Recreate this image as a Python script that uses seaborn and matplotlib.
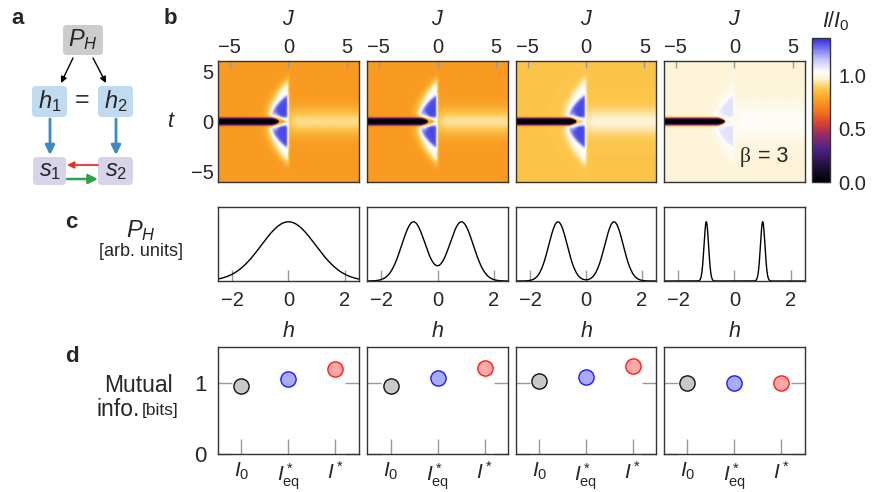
import numpy as np
import matplotlib
matplotlib.use("Agg")
import matplotlib.pyplot as plt
import seaborn as sns
import pandas as pd
from matplotlib.colors import LinearSegmentedColormap, Normalize
from matplotlib.patches import FancyBboxPatch, FancyArrowPatch

sns.set_theme(style="white")
plt.rcParams['font.family'] = ['Liberation Sans', 'DejaVu Sans']
plt.rcParams['mathtext.fontset'] = 'custom'
plt.rcParams['mathtext.it'] = 'Liberation Sans:italic'
plt.rcParams['mathtext.rm'] = 'Liberation Sans'
plt.rcParams['mathtext.bf'] = 'Liberation Sans:bold'

# ---------------- data ----------------
J_ticks = [-5, 0, 5]
t_ticks = [-5, 0, 5]
h_ticks = [-2, 0, 2]
cbar_ticks = [0.0, 0.5, 1.0]

# panel b: levels of I/I0
bg_level = [0.76, 0.76, 0.87, 0.975]
band_peak = [0.92, 0.93, 0.97, 1.02]
band_width = [0.9, 0.9, 0.9, 1.3]
halo_level = [1.04, 1.04, 1.04, 1.01]
lobe_amp = [0.27, 0.27, 0.27, 0.08]

# panel c: P_H peak positions and widths
peak_pos = [0.0, 0.85, 1.0, 1.0]
peak_width = [0.96, 0.42, 0.33, 0.08]

# panel d: mutual information (bits)
mi_labels = ['$I_0$', '$I^*_{\\rm eq}$', '$I^*$']
mi_I0 = [0.955, 0.96, 1.02, 1.0]
mi_Ieq = [1.052, 1.06, 1.085, 1.0]
mi_Istar = [1.19, 1.205, 1.233, 1.0]

# ---------------- figure ----------------
W, H = 878, 492
fig = plt.figure(figsize=(W / 100, H / 100), dpi=100)
fig.patch.set_facecolor('white')


def px_axes(x0, y0, x1, y1):
    return fig.add_axes([x0 / W, 1 - y1 / H, (x1 - x0) / W, (y1 - y0) / H])


def ftext(x, y, s, **kw):
    fig.text(x / W, 1 - y / H, s, **kw)


cmap = LinearSegmentedColormap.from_list('ii0', [
    (0.00 / 1.35, '#000000'),
    (0.12 / 1.35, '#1a0c30'),
    (0.30 / 1.35, '#4b2184'),
    (0.45 / 1.35, '#982c68'),
    (0.55 / 1.35, '#d9402f'),
    (0.65 / 1.35, '#f07020'),
    (0.76 / 1.35, '#f89b20'),
    (0.88 / 1.35, '#fdc84e'),
    (0.97 / 1.35, '#fdf3d6'),
    (1.03 / 1.35, '#ffffff'),
    (1.15 / 1.35, '#c4c4fa'),
    (1.35 / 1.35, '#2a2ae6'),
])
norm = Normalize(0, 1.35)

spine_c = '#333333'
tick_c = '#999999'
fs = 14.5


def sig(x):
    return 1 / (1 + np.exp(-np.clip(x, -60, 60)))


def field(k, J, t):
    v = np.full_like(J, bg_level[k])
    B = np.exp(-t ** 2 / (2 * band_width[k] ** 2)) * sig(J / 0.2)
    v = v + (band_peak[k] - bg_level[k]) * B
    R = sig(-J / 0.06)
    wn = 0.6 * np.clip((-0.15 - J) / 0.9, 0, 1)
    N = np.where(wn > 0, np.exp(-(np.abs(t) / np.maximum(wn, 1e-6)) ** 2), 0.0)
    r = -J / 1.75 + (t / 4.2) ** 2
    Hh = sig((1 - r) / 0.13) * R * (1 - N)
    v = v + (halo_level[k] - v) * Hh
    r2 = -J / 1.6 + (t / 2.7) ** 2
    L = sig((1 - r2) / 0.06) * sig(-(J + 0.08) / 0.04) * (1 - np.exp(-(t / 0.45) ** 4)) * (1 - N)
    v = v + lobe_amp[k] * L
    w = 0.38 * np.sqrt(np.clip((-0.8 - J) / 0.6, 0, 1))
    S = np.where(w > 0, np.exp(-(np.abs(t) / np.maximum(w, 1e-6)) ** 4), 0.0)
    v = v * (1 - S)
    return v


Jg = np.linspace(-6, 6, 481)
tg = np.linspace(-6, 6, 481)
JJ, TT = np.meshgrid(Jg, tg)

bx = [(218, 359), (367, 508), (516, 656), (664, 805)]
for k in range(4):
    ax = px_axes(bx[k][0], 61, bx[k][1], 182)
    im = ax.imshow(field(k, JJ, TT), extent=(-6, 6, -6, 6), origin='lower', cmap=cmap,
                   norm=norm, aspect='auto', interpolation='bilinear')
    ax.set_xlim(-6, 6)
    ax.set_ylim(-6, 6)
    ax.set_xticks(J_ticks)
    ax.set_yticks(t_ticks)
    ax.xaxis.set_ticks_position('top')
    ax.xaxis.set_label_position('top')
    ax.tick_params(axis='both', direction='in', length=5, width=1, color=tick_c,
                   labelsize=fs, pad=3)
    ax.tick_params(axis='x', top=True, bottom=False, labeltop=True, labelbottom=False)
    ax.set_xlabel('$J$', fontsize=fs + 1, labelpad=9)
    if k == 0:
        ax.set_yticklabels([str(v).replace('-', '\u2212') for v in t_ticks])
        ax.set_ylabel('$t$', fontsize=fs + 1, rotation=0, labelpad=14, va='center')
    else:
        ax.set_yticklabels([])
    for s in ax.spines.values():
        s.set_color(spine_c)
        s.set_linewidth(1)
    if k == 3:
        ax.text(0.4, -3.5, 'β', ha='left', va='center', fontsize=15.5,
                family=['Liberation Serif', 'DejaVu Serif'])
        ax.text(2.0, -3.5, '= 3', ha='left', va='center', fontsize=15.5)

cax = px_axes(812, 38, 830, 182)
cb = fig.colorbar(im, cax=cax, ticks=cbar_ticks)
cb.ax.set_yticklabels(['%.1f' % v for v in cbar_ticks])
cb.ax.tick_params(direction='in', length=6, width=1, color=tick_c, labelsize=fs, pad=6)
cb.outline.set_edgecolor(spine_c)
cb.outline.set_linewidth(1)
ftext(836, 21, '$I/I_0$', fontsize=fs + 1, ha='center', va='center')

# panel c
h = np.linspace(-2.5, 2.5, 800)
for k in range(4):
    ax = px_axes(bx[k][0], 207, bx[k][1], 281)
    mu, sd = peak_pos[k], peak_width[k]
    p = np.exp(-(h - mu) ** 2 / (2 * sd ** 2)) + np.exp(-(h + mu) ** 2 / (2 * sd ** 2))
    p = p / p.max()
    sns.lineplot(x=h, y=p, ax=ax, color='black', linewidth=1.0)
    ax.set_xlim(-2.5, 2.5)
    ax.set_ylim(0, 1.25)
    ax.set_xticks(h_ticks)
    ax.set_xticklabels([str(v).replace('-', '\u2212') for v in h_ticks])
    ax.set_yticks([])
    ax.tick_params(axis='x', direction='in', length=8, width=1, color=tick_c,
                   labelsize=fs, pad=7, bottom=True)
    ax.set_xlabel('$h$', fontsize=fs + 1, labelpad=8)
    for s in ax.spines.values():
        s.set_color(spine_c)
        s.set_linewidth(1)

# panel d
cols = [('#c8c8c8', '#111111'), ('#aaaaff', '#1a1aff'), ('#ffa8a8', '#ff1a1a')]
for k in range(4):
    ax = px_axes(bx[k][0], 347, bx[k][1], 454)
    vals = [mi_I0[k], mi_Ieq[k], mi_Istar[k]]
    for i in range(3):
        sns.scatterplot(x=[i], y=[vals[i]], ax=ax, s=120, color=cols[i][0],
                        edgecolor=cols[i][1], linewidth=1.0, zorder=3, legend=False)
    ax.set_xlim(-0.5, 2.5)
    ax.set_ylim(0, 1.5)
    ax.set_xticks([0, 1, 2])
    ax.set_xticklabels(mi_labels)
    ax.set_yticks([0, 1])
    ax.tick_params(axis='x', direction='in', length=11, width=1, color=tick_c,
                   labelsize=15, pad=5, bottom=True)
    ax.tick_params(axis='y', direction='in', length=10, width=1, color=tick_c,
                   labelsize=16, pad=8, left=True, right=True)
    if k == 0:
        ax.set_yticklabels(['0', '1'])
    else:
        ax.set_yticklabels([])
    ax.set_xlabel('')
    ax.set_ylabel('')
    for s in ax.spines.values():
        s.set_color(spine_c)
        s.set_linewidth(1)

# side labels
ftext(141, 231, '$P_H$', fontsize=17, ha='center', va='center')
ftext(141, 252, '[arb. units]', fontsize=13, ha='center', va='center')
ftext(138, 385, 'Mutual', fontsize=16.5, ha='center', va='center')
ftext(140, 410, 'info.', fontsize=16.5, ha='right', va='center')
ftext(142, 411, '[bits]', fontsize=12.5, ha='left', va='center')

# panel letters
for x, y, s in [(18, 18, 'a'), (170, 18, 'b'), (71, 222, 'c'), (72, 356, 'd')]:
    ftext(x, y, s, fontsize=16, fontweight='bold', ha='center', va='center')

# panel a diagram
axa = fig.add_axes([0, 0, 170 / W, 1])
axa.set_xlim(0, 170)
axa.set_ylim(H, 0)
axa.axis('off')


def box(x0, y0, x1, y1, fc):
    axa.add_patch(FancyBboxPatch((x0 + 4, y0 + 4), x1 - x0 - 8, y1 - y0 - 8,
                                 boxstyle='round,pad=4', fc=fc, ec='none'))


box(63, 25, 103, 55, '#cccccc')
box(32, 86, 67, 117, '#c2daef')
box(98, 86, 133, 117, '#c2daef')
box(33, 157, 66, 185, '#d7d4ea')
box(98, 157, 133, 185, '#d7d4ea')
axa.text(83, 40, '$P_H$', fontsize=17, ha='center', va='center')
axa.text(50, 101, '$h_1$', fontsize=17, ha='center', va='center')
axa.text(116, 101, '$h_2$', fontsize=17, ha='center', va='center')
axa.text(82, 100, '=', fontsize=18, ha='center', va='center', color='#333333')
axa.text(50, 171, '$s_1$', fontsize=17, ha='center', va='center')
axa.text(116, 171, '$s_2$', fontsize=17, ha='center', va='center')


def arrow(p0, p1, c, lw, ms):
    axa.add_patch(FancyArrowPatch(p0, p1, arrowstyle='-|>', mutation_scale=ms,
                                  color=c, lw=lw, shrinkA=0, shrinkB=0))


arrow((73, 58), (61, 83), 'black', 1.0, 9)
arrow((93, 58), (106, 83), 'black', 1.0, 9)
arrow((50, 119), (50, 155), '#3a8ac6', 2.0, 14)
arrow((116, 119), (116, 155), '#3a8ac6', 2.0, 14)
arrow((98, 165), (67, 165), '#e63325', 1.3, 10)
arrow((67, 179), (98, 179), '#2ea24a', 1.8, 14)

fig.savefig('out.png', dpi=100, facecolor='white')
